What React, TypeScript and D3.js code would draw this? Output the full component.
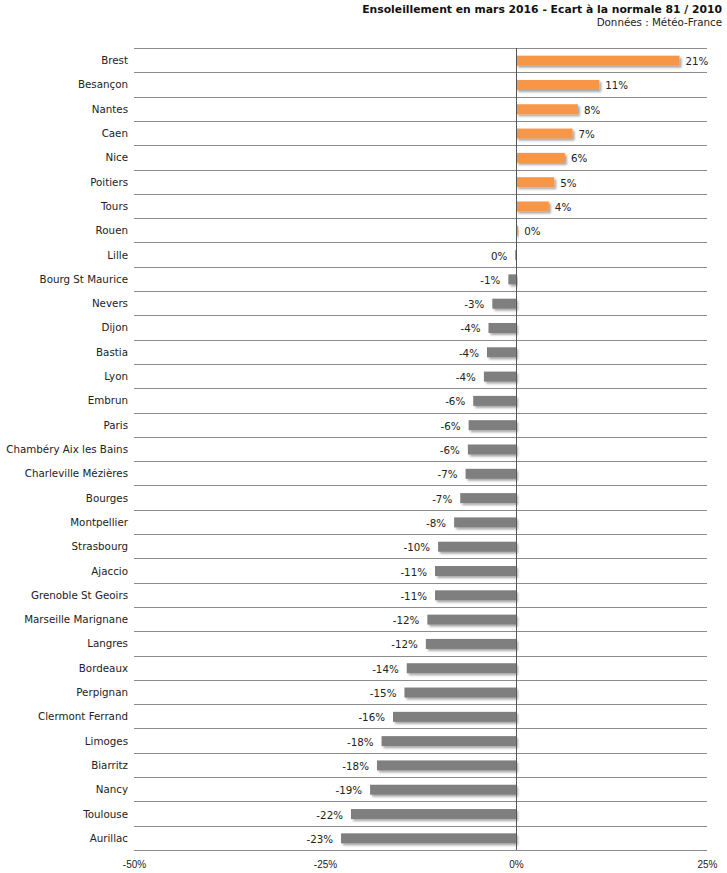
import * as React from "react";
import * as d3 from "d3";
import { useEffect, useRef } from "react";

const cities: string[] = [
  "Brest", "Besançon", "Nantes", "Caen", "Nice", "Poitiers", "Tours", "Rouen",
  "Lille", "Bourg St Maurice", "Nevers", "Dijon", "Bastia", "Lyon", "Embrun",
  "Paris", "Chambéry Aix les Bains", "Charleville Mézières", "Bourges",
  "Montpellier", "Strasbourg", "Ajaccio", "Grenoble St Geoirs",
  "Marseille Marignane", "Langres", "Bordeaux", "Perpignan", "Clermont Ferrand",
  "Limoges", "Biarritz", "Nancy", "Toulouse", "Aurillac",
];

const ecarts: number[] = [
  21.4, 10.9, 8.1, 7.4, 6.4, 5.0, 4.3, 0.3,
  -0.1, -1.0, -3.1, -3.6, -3.8, -4.2, -5.6,
  -6.2, -6.3, -6.6, -7.3,
  -8.1, -10.2, -10.6, -10.6,
  -11.6, -11.8, -14.3, -14.6, -16.1,
  -17.6, -18.2, -19.1, -21.6, -22.9,
];

const xTicks: number[] = [-50, -25, 0, 25];

const title = "Ensoleillement en mars 2016 - Ecart à la normale 81 / 2010";
const subtitle = "Données : Météo-France";

function drawChart(svgRef: React.RefObject<SVGSVGElement | null>) {
  const svg = d3.select(svgRef.current);
  const width = 727;
  const height = 873;
  const left = 134;
  const right = 707;
  const top = 48;
  const bottom = 850;
  const font = '"DejaVu Sans", Verdana, sans-serif';
  const fs = 10.3;

  svg.selectAll("*").remove();
  svg.attr("width", width).attr("height", height);

  const defs = svg.append("defs");
  defs
    .append("filter")
    .attr("id", "shadow")
    .attr("x", "-10%")
    .attr("y", "-50%")
    .attr("width", "130%")
    .attr("height", "250%")
    .append("feDropShadow")
    .attr("dx", 2)
    .attr("dy", 2)
    .attr("stdDeviation", 1.3)
    .attr("flood-color", "#000")
    .attr("flood-opacity", 0.35);

  const x = d3.scaleLinear().domain([-50, 25]).range([left, right]);
  const y = d3.scaleBand().domain(cities).range([top, bottom]);

  // title
  svg
    .append("text")
    .attr("x", 722)
    .attr("y", 13)
    .attr("text-anchor", "end")
    .attr("font-family", font)
    .attr("font-size", 10.8)
    .attr("font-weight", "bold")
    .attr("fill", "#111")
    .text(title);
  svg
    .append("text")
    .attr("x", 722)
    .attr("y", 26)
    .attr("text-anchor", "end")
    .attr("font-family", font)
    .attr("font-size", fs)
    .attr("fill", "#222")
    .text(subtitle);

  // horizontal grid lines at row boundaries
  const bounds = cities.map((c) => y(c)!).concat([bottom]);
  svg
    .append("g")
    .selectAll("line")
    .data(bounds)
    .enter()
    .append("line")
    .attr("x1", left)
    .attr("x2", right)
    .attr("y1", (d) => Math.round(d) + 0.5)
    .attr("y2", (d) => Math.round(d) + 0.5)
    .attr("stroke", "#8c8c8c")
    .attr("stroke-width", 1);

  // bars
  const barH = 10;
  svg
    .append("g")
    .selectAll("rect")
    .data(ecarts)
    .enter()
    .append("rect")
    .attr("x", (d) => x(Math.min(0, d)))
    .attr("y", (d, i) => y(cities[i])! + y.bandwidth() / 2 - barH / 2 + 0.5)
    .attr("width", (d) => Math.abs(x(d) - x(0)))
    .attr("height", barH)
    .attr("fill", (d) => (d >= 0 ? "#f79646" : "#7f7f7f"))
    .attr("filter", "url(#shadow)");

  // zero line
  svg
    .append("line")
    .attr("x1", Math.round(x(0)) + 0.5)
    .attr("x2", Math.round(x(0)) + 0.5)
    .attr("y1", top)
    .attr("y2", bottom)
    .attr("stroke", "#555")
    .attr("stroke-width", 1);

  // value labels
  svg
    .append("g")
    .selectAll("text")
    .data(ecarts)
    .enter()
    .append("text")
    .attr("x", (d) => (d > 0 ? x(d) + 6 : x(d) - 8))
    .attr("y", (d, i) => y(cities[i])! + y.bandwidth() / 2 + 5)
    .attr("text-anchor", (d) => (d > 0 ? "start" : "end"))
    .attr("font-family", font)
    .attr("font-size", fs)
    .attr("fill", "#222")
    .text((d) => `${Math.round(d) === 0 ? 0 : Math.round(d)}%`);

  // category labels
  svg
    .append("g")
    .selectAll("text")
    .data(cities)
    .enter()
    .append("text")
    .attr("x", left - 6)
    .attr("y", (d) => y(d)! + y.bandwidth() / 2 + 4)
    .attr("text-anchor", "end")
    .attr("font-family", font)
    .attr("font-size", fs)
    .attr("fill", "#222")
    .text((d) => d);

  // x axis
  const xAxis = d3
    .axisBottom(x)
    .tickValues(xTicks)
    .tickSize(0)
    .tickPadding(11)
    .tickFormat((d) => `${d}%`);
  const gx = svg
    .append("g")
    .attr("transform", `translate(0, ${bottom})`)
    .attr("font-family", font)
    .attr("font-size", fs)
    .call(xAxis);
  gx.select(".domain").remove();
  gx.selectAll("text").attr("fill", "#222");
}

export default function App() {
  const svg = useRef<SVGSVGElement>(null);
  useEffect(() => {
    drawChart(svg);
  }, []);

  return (
    <div style={{ position: "absolute", left: 0, top: 0, background: "#fff" }}>
      <svg ref={svg} style={{ display: "block" }} />
    </div>
  );
}
